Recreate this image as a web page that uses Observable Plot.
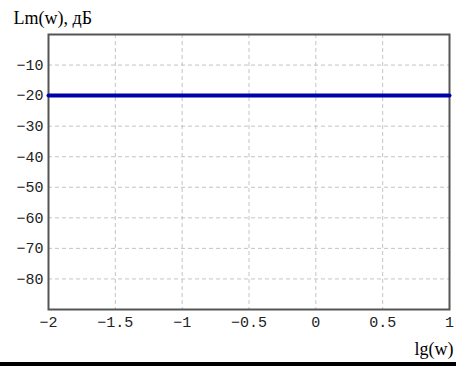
<!DOCTYPE html>
<html>
<head>
<meta charset="utf-8">
<script src="https://cdn.jsdelivr.net/npm/d3@7"></script>
<script src="https://cdn.jsdelivr.net/npm/@observablehq/plot@0.6"></script>
<style>
  body { margin: 0; background: #fff; width: 456px; height: 367px; overflow: hidden; }
  #bar { width: 456px; height: 4px; background: #000; }
</style>
</head>
<body>
<div id="chart"></div>
<div id="bar"></div>
<script>
const lgW = [-2, 1];
const lmW = [-20, -20];
const xTicks = [-2, -1.5, -1, -0.5, 0, 0.5, 1];
const yTicks = [-10, -20, -30, -40, -50, -60, -70, -80];
const yTitle = "Lm(w), дБ";
const xTitle = "lg(w)";

const data = lgW.map((x, i) => ({x, y: lmW[i]}));
const fmt = d => (d < 0 ? "\u2212" + Math.abs(d) : String(d));

const chart = Plot.plot({
  width: 456,
  height: 362,
  marginLeft: 48,
  marginRight: 7,
  marginTop: 34,
  marginBottom: 53,
  x: {domain: [-2, 1]},
  y: {domain: [-90, 0]},
  style: {background: "#fff"},
  marks: [
    Plot.gridX(xTicks.slice(1, -1), {stroke: "#c4c4c4", strokeOpacity: 1, strokeDasharray: "4,3", strokeWidth: 1}),
    Plot.gridY(yTicks, {stroke: "#c4c4c4", strokeOpacity: 1, strokeDasharray: "4,3", strokeWidth: 1}),
    Plot.axisX({ticks: xTicks, tickFormat: fmt, tickSize: 0, tickPadding: 7, label: null,
      fontFamily: "Liberation Mono", fontSize: 15, fill: "#222"}),
    Plot.axisY({ticks: yTicks, tickFormat: fmt, tickSize: 0, tickPadding: 5, label: null,
      fontFamily: "Liberation Mono", fontSize: 15, fill: "#222"}),
    Plot.frame({stroke: "#555", strokeWidth: 2}),
    Plot.lineY(data, {x: "x", y: "y", stroke: "#0000a8", strokeWidth: 4}),
    Plot.text([yTitle], {frameAnchor: "top-left", dx: -35, dy: -11, textAnchor: "start", lineAnchor: "bottom",
      fontFamily: "Liberation Serif", fontSize: 18, fill: "#000"}),
    Plot.text([xTitle], {frameAnchor: "bottom-right", dx: 4, dy: 45, textAnchor: "end", lineAnchor: "bottom",
      fontFamily: "Liberation Serif", fontSize: 18, fill: "#000"})
  ]
});
document.getElementById("chart").appendChild(chart);
</script>
</body>
</html>
